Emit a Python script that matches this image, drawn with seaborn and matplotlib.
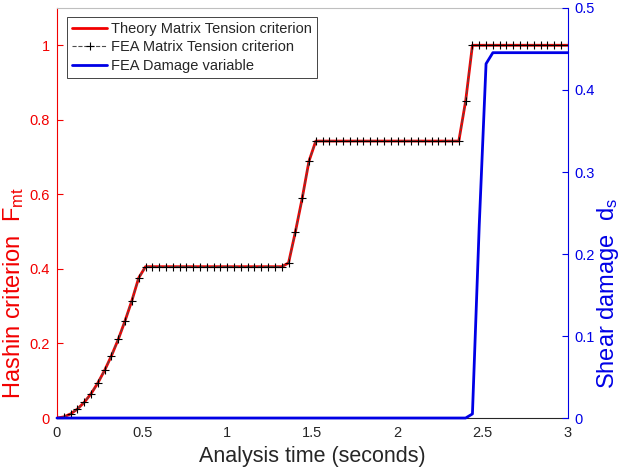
import numpy as np
import pandas as pd
import seaborn as sns
import matplotlib.pyplot as plt

# Time grid of the analysis (seconds), 0.04 s increments
time = np.linspace(0, 3.0, 76)

# Hashin matrix tension criterion F_mt
theory_fmt = ([0.0, 0.003, 0.011, 0.024, 0.042, 0.065, 0.094, 0.128, 0.167,
               0.211, 0.261, 0.315, 0.376, 0.406]
              + [0.406] * 20
              + [0.416, 0.499, 0.589, 0.689, 0.743]
              + [0.743] * 21
              + [0.850, 1.0]
              + [1.0] * 14)
fea_fmt = list(theory_fmt)

# Shear damage variable d_s
damage = [0.0] * 61 + [0.005, 0.235, 0.432, 0.4455] + [0.4455] * 11

df = pd.DataFrame({"time": time, "theory": theory_fmt, "fea": fea_fmt, "damage": damage})

sns.set_style("white")
plt.rcParams["font.family"] = ["Liberation Sans", "DejaVu Sans"]
plt.rcParams["mathtext.fontset"] = "custom"
plt.rcParams["mathtext.rm"] = "Liberation Sans"
plt.rcParams["mathtext.it"] = "Liberation Sans:italic"

RED = (0.95, 0.0, 0.0)
BLUE = (0.0, 0.0, 0.9)
DARK = "0.15"

fig = plt.figure(figsize=(6.26, 4.70), dpi=100)
ax1 = fig.add_axes([0.091, 0.1106, 0.816, 0.8724])
ax2 = ax1.twinx()

sns.lineplot(data=df, x="time", y="theory", ax=ax1, color=RED, lw=2.0, legend=False)
sns.lineplot(data=df, x="time", y="fea", ax=ax1, color="0.3", lw=0.8, linestyle="--",
             marker="+", markersize=6, markeredgecolor="k", markeredgewidth=0.8, legend=False)
sns.lineplot(data=df, x="time", y="damage", ax=ax2, color=BLUE, lw=2.0, legend=False, clip_on=False)

ax1.set_xlim(0, 3)
ax1.set_ylim(0, 1.1)
ax2.set_ylim(0, 0.5)
ax1.set_xticks([0, 0.5, 1, 1.5, 2, 2.5, 3])
ax1.set_xticklabels(["0", "0.5", "1", "1.5", "2", "2.5", "3"])
ax1.set_yticks([0, 0.2, 0.4, 0.6, 0.8, 1.0])
ax1.set_yticklabels(["0", "0.2", "0.4", "0.6", "0.8", "1"])
ax2.set_yticks([0, 0.1, 0.2, 0.3, 0.4, 0.5])
ax2.set_yticklabels(["0", "0.1", "0.2", "0.3", "0.4", "0.5"])

ax1.tick_params(axis="x", direction="in", length=4, colors=DARK, labelsize=10.5, pad=6)
ax1.tick_params(axis="y", direction="in", length=4, colors=RED, labelsize=10.5, pad=5)
ax2.tick_params(axis="y", direction="in", length=4, colors=BLUE, labelsize=10.5, pad=5)

for ax in (ax1, ax2):
    for s in ax.spines.values():
        s.set_linewidth(0.8)
ax1.spines["left"].set_color(RED)
ax1.spines["right"].set_visible(False)
ax1.spines["bottom"].set_color(DARK)
ax1.spines["top"].set_color("0.75")
ax2.spines["right"].set_color(BLUE)
ax2.spines["left"].set_visible(False)
ax2.spines["top"].set_visible(False)
ax2.spines["bottom"].set_visible(False)

ax1.set_xlabel("Analysis time (seconds)", fontsize=15.5, color=DARK, labelpad=4)
ax1.set_ylabel("Hashin criterion  F$_{\\mathrm{mt}}$", fontsize=17, color=RED)
ax2.set_ylabel("Shear damage  d$_{\\mathrm{s}}$", fontsize=17, color=BLUE)
ax1.yaxis.set_label_coords(-0.060, 0.305)
ax2.yaxis.set_label_coords(1.053, 0.305)

handles = ax1.get_lines()[:2] + ax2.get_lines()[:1]
labels = ["Theory Matrix Tension criterion", "FEA Matrix Tension criterion", "FEA Damage variable"]
leg = ax2.legend(handles, labels, loc="upper left", bbox_to_anchor=(0.0196, 0.978),
                 fontsize=10.5, frameon=True, fancybox=False, framealpha=1,
                 edgecolor="0.15", borderpad=0.35, labelspacing=0.3,
                 handlelength=2.4, handletextpad=0.3, borderaxespad=0)
leg.get_frame().set_linewidth(0.6)

fig.savefig("out.png", dpi=100)
